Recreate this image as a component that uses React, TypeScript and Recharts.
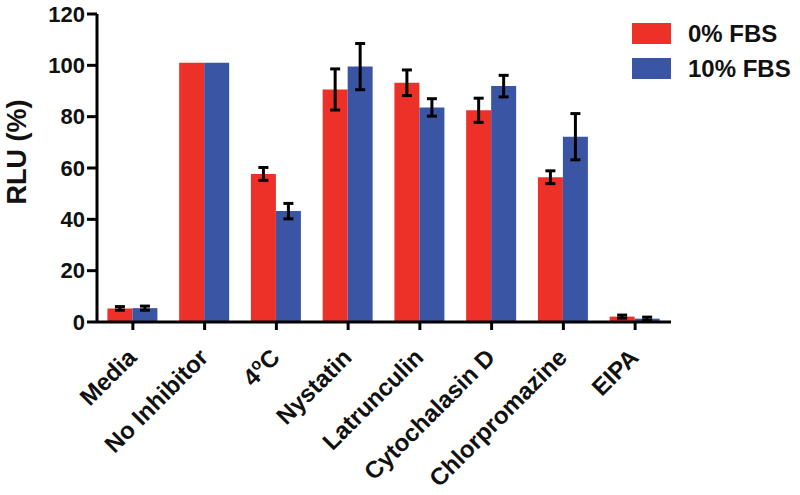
import { BarChart, Bar, XAxis, YAxis, ErrorBar, Legend } from 'recharts'

const categories = ['Media', 'No Inhibitor', '4°C', 'Nystatin', 'Latrunculin', 'Cytochalasin D', 'Chlorpromazine', 'EIPA']
const fbs0 = [5.3, 101, 57.7, 90.6, 93.2, 82.5, 56.4, 2.1]
const fbs0Err = [0.7, null, 2.5, 8, 5, 4.7, 2.5, 0.6]
const fbs10 = [5.4, 101, 43.2, 99.5, 83.6, 91.9, 72.2, 1.3]
const fbs10Err = [0.8, null, 3, 9, 3.4, 4.2, 9, 0.6]
const yTicks = [0, 20, 40, 60, 80, 100, 120]

const RED = '#ee3128'
const BLUE = '#3b55a5'
const FONT = '"Liberation Sans", Arial, Helvetica, sans-serif'

const data = categories.map((name, i) => ({
  name,
  fbs0: fbs0[i],
  fbs0Err: fbs0Err[i],
  fbs10: fbs10[i],
  fbs10Err: fbs10Err[i],
}))

function XTick({ x, y, payload }: any) {
  const label: string = payload.value
  const deg = label === '4°C'
  return (
    <g transform={`translate(${x + 5},${y + 27})`}>
      <text
        transform="rotate(-45)"
        textAnchor="end"
        fontFamily={FONT}
        fontWeight="bold"
        fontSize={24}
        fill="#111"
      >
        {deg ? (
          <>
            4<tspan fontSize={16} dy={-9}>o</tspan>
            <tspan dy={9}>C</tspan>
          </>
        ) : label}
      </text>
    </g>
  )
}

function YLabel({ viewBox }: any) {
  const cy = viewBox.y + viewBox.height / 2 - 16
  return (
    <text
      x={17}
      y={cy}
      transform={`rotate(-90, 17, ${cy})`}
      textAnchor="middle"
      dominantBaseline="central"
      fontFamily={FONT}
      fontWeight="bold"
      fontSize={27}
      style={{ fontSize: 27 }}
      fill="#111"
    >
      RLU (%)
    </text>
  )
}

function LegendContent() {
  const items = [
    { label: '0% FBS', color: RED },
    { label: '10% FBS', color: BLUE },
  ]
  return (
    <div style={{ fontFamily: FONT }}>
      {items.map(it => (
        <div key={it.label} style={{ display: 'flex', alignItems: 'center', height: 35 }}>
          <span style={{ display: 'inline-block', width: 39, height: 21, background: it.color, marginRight: 17 }} />
          <span style={{ fontSize: 24, fontWeight: 'bold', color: '#111' }}>{it.label}</span>
        </div>
      ))}
    </div>
  )
}

export default function App() {
  return (
    <div style={{ position: 'absolute', left: 0, top: 0, background: '#fff' }}>
      <BarChart
        width={800}
        height={495}
        data={data}
        margin={{ top: 14, right: 129, bottom: 0, left: 0 }}
        barCategoryGap="14.5%"
        barGap={0}
      >
        <XAxis
          dataKey="name"
          interval={0}
          tick={<XTick />}
          tickLine={{ stroke: '#000', strokeWidth: 3 }}
          tickSize={8}
          axisLine={{ stroke: '#000', strokeWidth: 3 }}
          height={173}
        />
        <YAxis
          domain={[0, 120]}
          ticks={yTicks}
          width={97}
          tickSize={10}
          tickLine={{ stroke: '#000', strokeWidth: 3 }}
          axisLine={{ stroke: '#000', strokeWidth: 3 }}
          tick={{ fontFamily: FONT, fontWeight: 'bold', fontSize: 22, fill: '#111' }}
          label={<YLabel />}
        />
        <Legend
          layout="horizontal"
          verticalAlign="middle"
          align="center"
          content={<LegendContent />}
          wrapperStyle={{ left: 632, top: 16, width: 170 }}
        />
        <Bar dataKey="fbs0" name="0% FBS" fill={RED} isAnimationActive={false}>
          <ErrorBar dataKey="fbs0Err" width={5} stroke="#000" strokeWidth={3} isAnimationActive={false} />
        </Bar>
        <Bar dataKey="fbs10" name="10% FBS" fill={BLUE} isAnimationActive={false}>
          <ErrorBar dataKey="fbs10Err" width={5} stroke="#000" strokeWidth={3} isAnimationActive={false} />
        </Bar>
      </BarChart>
    </div>
  )
}
